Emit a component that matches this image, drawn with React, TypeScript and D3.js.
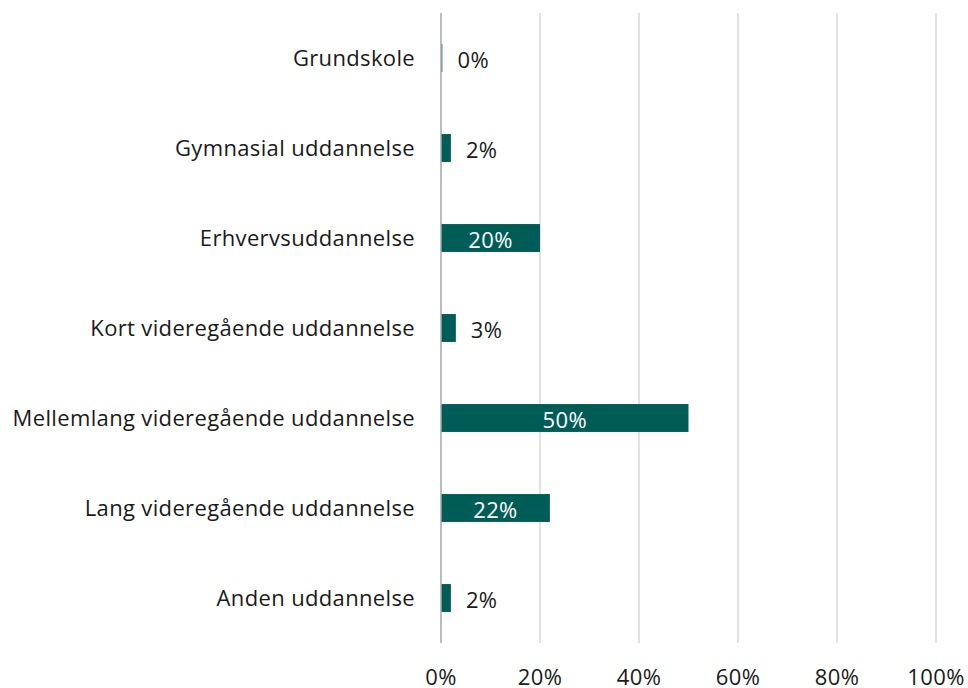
import React from "react";
import * as d3 from "d3";

const categories = [
  "Grundskole",
  "Gymnasial uddannelse",
  "Erhvervsuddannelse",
  "Kort videregående uddannelse",
  "Mellemlang videregående uddannelse",
  "Lang videregående uddannelse",
  "Anden uddannelse",
];
const values = [0.3, 2, 20, 3, 50, 22, 2];
const valueLabels = ["0%", "2%", "20%", "3%", "50%", "22%", "2%"];
const ticks = [0, 20, 40, 60, 80, 100];

const W = 968;
const H = 688;
const left = 441;
const right = 936;
const top = 13;
const bottom = 643;
const FONT = "'Open Sans', 'Noto Sans', sans-serif";
const BAR = "#005c57";
const FS = 22;
const LS = 0.35;

export default function App() {
  const x = d3.scaleLinear().domain([0, 100]).range([left, right]);
  const y = d3.scaleBand().domain(categories).range([top, bottom]).paddingInner(0.69).paddingOuter(0.345);
  return (
    <svg width={W} height={H} style={{ position: "absolute", left: 0, top: 0, background: "#fff" }} fontFamily={FONT}>
      {ticks.slice(1).map((t) => (
        <line key={t} x1={x(t)} x2={x(t)} y1={top} y2={bottom} stroke="#d9d9d9" strokeWidth={1.5} />
      ))}
      {categories.map((c, i) => {
        const v = values[i];
        const yy = y(c)!;
        const bw = x(v) - x(0);
        const cy = yy + y.bandwidth() / 2;
        const inside = v >= 10;
        return (
          <g key={c}>
            <rect x={x(0)} y={yy} width={bw} height={y.bandwidth()} fill={BAR} opacity={v < 1 ? 0.7 : 1} />
            <text x={415} y={cy} dy="0.35em" textAnchor="end" fontSize={FS} letterSpacing={LS} fill="#1a1a1a">
              {c}
            </text>
            <text
              x={inside ? x(0) + bw / 2 : x(v) + 15}
              y={cy + 2}
              dy="0.35em"
              textAnchor={inside ? "middle" : "start"}
              fontSize={FS}
              letterSpacing={LS}
              fill={inside ? "#ffffff" : "#1a1a1a"}
            >
              {valueLabels[i]}
            </text>
          </g>
        );
      })}
      <line x1={x(0)} x2={x(0)} y1={top} y2={bottom} stroke="#a6a6a6" strokeWidth={1.5} />
      {ticks.map((t) => (
        <text key={t} x={x(t)} y={677} dy="0.35em" textAnchor="middle" fontSize={FS} letterSpacing={LS} fill="#1a1a1a">
          {t}%
        </text>
      ))}
    </svg>
  );
}
